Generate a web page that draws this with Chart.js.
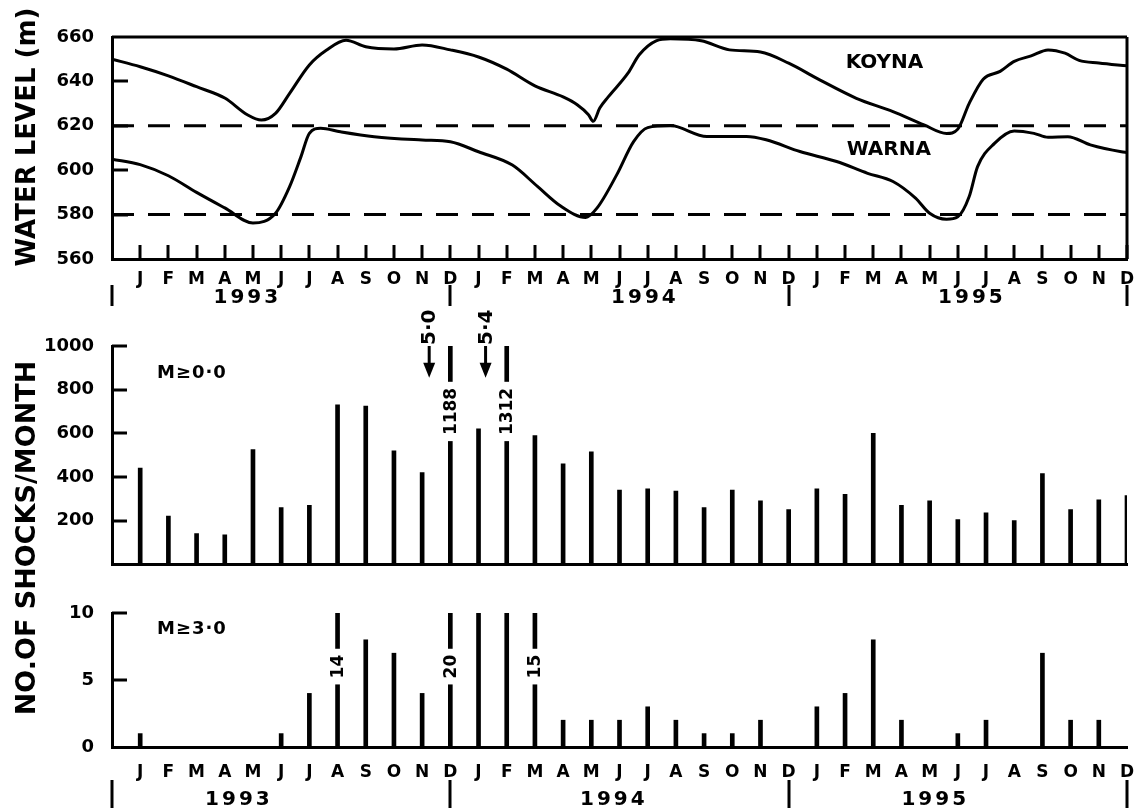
<!DOCTYPE html>
<html>
<head>
<meta charset="utf-8">
<title>Koyna / Warna water level and seismicity 1993-1995</title>
<script src="https://cdn.jsdelivr.net/npm/chart.js@4.4.1/dist/chart.umd.min.js"></script>
<style>
  html, body { margin: 0; padding: 0; background: #fff; }
  #wrap { position: relative; width: 1137px; height: 809px; overflow: hidden; background: #fff; }
  #wrap canvas { position: absolute; left: 0; }
  .ytitle {
    position: absolute; white-space: nowrap; color: #000;
    font-family: "DejaVu Sans", "Liberation Sans", sans-serif; font-weight: bold;
    transform: translate(-50%, -50%) rotate(-90deg);
  }
</style>
</head>
<body>
<div id="wrap">
  <canvas id="levels" width="1137" height="310" style="top:0"></canvas>
  <canvas id="shocksAll" width="1137" height="275" style="top:310px"></canvas>
  <canvas id="shocksM3" width="1137" height="224" style="top:585px"></canvas>
  <div class="ytitle" style="left:26px; top:137px; font-size:26px;">WATER LEVEL (m)</div>
  <div class="ytitle" style="left:25px; top:538px; font-size:27px;">NO.OF SHOCKS/MONTH</div>
</div>
<script>
(function () {
    'use strict';

    // month ticks, Jan 1993 .. Dec 1995 (tick k = 1..36)
    var months = ['J', 'F', 'M', 'A', 'M', 'J', 'J', 'A', 'S', 'O', 'N', 'D',
                  'J', 'F', 'M', 'A', 'M', 'J', 'J', 'A', 'S', 'O', 'N', 'D',
                  'J', 'F', 'M', 'A', 'M', 'J', 'J', 'A', 'S', 'O', 'N', 'D'];
    var years = ['1993', '1994', '1995'];
    var yearBounds = [0, 12, 24, 36];
    var yearLabelTop = [4.8, 18.9, 30.5];
    var yearLabelBottom = [4.5, 17.8, 29.2];

    // reservoir levels (m)
    var koynaMonth = [0, 1, 2, 3, 4, 4.8, 5.3, 5.8, 6.3, 7, 7.6, 8.3, 9, 10, 11, 12, 13, 14, 15, 16, 16.5,
                      16.9, 17.07, 17.3, 17.6, 18.3, 18.7, 19.3, 19.8, 20.9, 21.9, 23, 24, 25.1, 26.4, 27.7,
                      28.8, 29.6, 30, 30.4, 30.9, 31.5, 32, 32.6, 33.2, 33.8, 34.3, 35, 36];
    var koynaLevel = [650, 646.6, 642.5, 637.6, 632.5, 625, 622.6, 625.6, 634.6, 647.4, 654, 658.5, 655.6,
                      654.6, 656.4, 654.2, 651, 645.5, 638, 633, 629.5, 625, 622, 628, 633, 643.7, 652, 658.3,
                      659.2, 658.3, 654.2, 653.2, 648.2, 640.7, 632.4, 626.4, 620.4, 616.5, 618.5, 630, 641,
                      644.5, 649, 651.5, 654.2, 652.7, 649.5, 648.3, 647];
    var warnaMonth = [0, 1, 2, 3, 4, 5, 5.8, 6.3, 6.7, 7, 7.4, 8.1, 9.3, 11, 12, 13, 14.2, 15.1, 15.9, 16.8,
                      17.2, 17.9, 18.5, 19, 19.8, 21.1, 22.5, 23.2, 24.4, 25.7, 26.8, 27.7, 28.5, 29, 29.6,
                      30, 30.4, 30.7, 31.3, 32, 32.7, 33.2, 33.9, 34.7, 35.8, 36];
    var warnaLevel = [605, 602.5, 597.5, 590, 583, 576.2, 580.6, 592.6, 606, 616.6, 618.9, 617.3, 615.1,
                      613.6, 612.8, 608.3, 602.3, 592.6, 584, 578.7, 582.9, 597.9, 612.9, 619.2, 620.1,
                      615.2, 615.2, 613.7, 608.4, 603.9, 598.6, 594.9, 587.4, 580.6, 577.9, 579, 588, 601.6,
                      612.1, 617.7, 616.6, 614.8, 615.1, 611.4, 608.3, 608];
    var dashedLevels = [620, 580];

    // shocks per month
    var shocksAll = [440, 220, 140, 135, 525, 260, 270, 730, 725, 520, 420, 1188,
                     620, 1312, 590, 460, 515, 340, 345, 335, 260, 340, 290, 250,
                     345, 320, 600, 270, 290, 205, 235, 200, 415, 250, 295, 315];
    var shocksM3 = [1, 0, 0, 0, 0, 1, 4, 14, 8, 7, 4, 20,
                    10, 10, 15, 2, 2, 2, 3, 2, 1, 1, 2, 0,
                    3, 4, 8, 2, 0, 1, 2, 0, 7, 2, 2, 0];

    // off-scale bars get their count written on the bar
    var bigAllMonth = [12, 14];
    var bigAllText = ['1188', '1312'];
    var bigM3Month = [8, 12, 15];
    var bigM3Text = ['14', '20', '15'];

    // main earthquakes (arrows)
    var quakeMonth = [11.25, 13.25];
    var quakeText = ['5\u00b70', '5\u00b74'];

    var BLACK = '#000';
    var FONT = '"DejaVu Sans", "Liberation Sans", sans-serif';
    Chart.defaults.font.family = FONT;
    Chart.defaults.color = BLACK;

    function line(ctx, x1, y1, x2, y2) {
        ctx.beginPath(); ctx.moveTo(x1, y1); ctx.lineTo(x2, y2); ctx.stroke();
    }

    function innerYTicks(chart, values, len) {
        var ctx = chart.ctx, a = chart.chartArea, y = chart.scales.y;
        ctx.save(); ctx.strokeStyle = BLACK; ctx.lineWidth = 3;
        values.forEach(function (v) {
            var py = Math.round(y.getPixelForValue(v));
            line(ctx, a.left, py, a.left + len, py);
        });
        ctx.restore();
    }

    function yearRow(chart, labelPos, markTop, markBottom, textY) {
        var ctx = chart.ctx, x = chart.scales.x, b = chart.chartArea.bottom;
        ctx.save(); ctx.strokeStyle = BLACK; ctx.lineWidth = 3;
        yearBounds.forEach(function (k) {
            var px = Math.round(x.getPixelForValue(k));
            line(ctx, px, b + markTop, px, b + markBottom);
        });
        ctx.fillStyle = BLACK;
        ctx.font = 'bold 20px ' + FONT;
        ctx.letterSpacing = '3px';
        ctx.textAlign = 'center'; ctx.textBaseline = 'middle';
        years.forEach(function (yr, i) { ctx.fillText(yr, x.getPixelForValue(labelPos[i]), b + textY); });
        ctx.restore();
    }

    function barLabels(chart, monthList, textList, centerValue, size) {
        var ctx = chart.ctx, x = chart.scales.x, y = chart.scales.y;
        ctx.save();
        ctx.font = 'bold ' + size + 'px ' + FONT;
        monthList.forEach(function (m, i) {
            var w = ctx.measureText(textList[i]).width;
            ctx.save();
            ctx.translate(x.getPixelForValue(m), y.getPixelForValue(centerValue));
            ctx.rotate(-Math.PI / 2);
            ctx.fillStyle = '#fff';
            ctx.fillRect(-w / 2 - 6, -8, w + 12, 16);
            ctx.fillStyle = BLACK;
            ctx.textAlign = 'center'; ctx.textBaseline = 'middle';
            ctx.fillText(textList[i], 0, 1);
            ctx.restore();
        });
        ctx.restore();
    }

    function cornerLabel(chart, text, dx, dy) {
        var ctx = chart.ctx, a = chart.chartArea;
        ctx.save();
        ctx.fillStyle = BLACK; ctx.font = 'bold 18px ' + FONT;
        ctx.letterSpacing = '1px';
        ctx.textAlign = 'left'; ctx.textBaseline = 'middle';
        ctx.fillText(text, a.left + dx, a.top + dy);
        ctx.restore();
    }

    function monthAxis(show, pad, height) {
        return {
            type: 'linear', min: 0, max: 36, offset: false,
            afterBuildTicks: function (s) { s.ticks = months.map(function (m, i) { return { value: i + 1 }; }); },
            afterFit: function (s) { s.height = height; s.paddingLeft = 0; s.paddingRight = 0; },
            ticks: {
                display: show, autoSkip: false, maxRotation: 0, padding: pad,
                font: { size: 17, weight: 'bold' }, color: BLACK,
                callback: function (v) { return months[v - 1]; }
            },
            grid: { display: false },
            border: { display: true, color: BLACK, width: 3 }
        };
    }

    function valueAxis(min, max, step, hideZero) {
        return {
            min: min, max: max,
            afterFit: function (s) { s.width = 112; },
            ticks: {
                stepSize: step, padding: 10, font: { size: 18, weight: 'bold' }, color: BLACK,
                callback: function (v) { return (hideZero && v === 0) ? '' : v; }
            },
            grid: { display: false },
            border: { display: true, color: BLACK, width: 3 }
        };
    }

    var common = {
        responsive: false, animation: false, events: [],
        plugins: { legend: { display: false }, tooltip: { enabled: false } }
    };

    // ---- water levels ----
    var levelSets = [
        { data: koynaMonth.map(function (m, i) { return { x: m, y: koynaLevel[i] }; }) },
        { data: warnaMonth.map(function (m, i) { return { x: m, y: warnaLevel[i] }; }) }
    ].map(function (d) {
        return Object.assign(d, { borderColor: BLACK, borderWidth: 3, pointRadius: 0, fill: false, cubicInterpolationMode: 'monotone' });
    });
    dashedLevels.forEach(function (v) {
        levelSets.push({ data: [{ x: 0, y: v }, { x: 36, y: v }], borderColor: BLACK, borderWidth: 3,
            borderDash: [22, 14], pointRadius: 0, fill: false });
    });

    new Chart(document.getElementById('levels'), {
        type: 'line',
        data: { datasets: levelSets },
        options: Object.assign({}, common, {
            layout: { padding: { top: 37, right: 10, left: 0, bottom: 0 } },
            scales: { x: monthAxis(true, 2, 51), y: valueAxis(560, 660, 20, false) }
        }),
        plugins: [{
            id: 'levelFrame',
            afterDraw: function (chart) {
                var ctx = chart.ctx, a = chart.chartArea, x = chart.scales.x, y = chart.scales.y;
                ctx.save(); ctx.strokeStyle = BLACK; ctx.lineWidth = 3;
                line(ctx, a.left, a.top, a.right, a.top);
                line(ctx, a.right, a.top, a.right, a.bottom);
                months.forEach(function (m, i) {
                    var px = Math.round(x.getPixelForValue(i + 1));
                    line(ctx, px, a.bottom, px, a.bottom - 14);
                });
                ctx.fillStyle = BLACK; ctx.font = 'bold 20px ' + FONT;
                ctx.textAlign = 'center'; ctx.textBaseline = 'middle';
                ctx.fillText('KOYNA', x.getPixelForValue(27.4), y.getPixelForValue(648.3));
                ctx.fillText('WARNA', x.getPixelForValue(27.55), y.getPixelForValue(609));
                ctx.restore();
                innerYTicks(chart, [640, 620, 600, 580], 16);
                yearRow(chart, yearLabelTop, 26, 47, 39);
            }
        }]
    });

    // ---- all shocks ----
    new Chart(document.getElementById('shocksAll'), {
        type: 'bar',
        data: { datasets: [{ data: shocksAll.map(function (v, i) { return { x: i + 1, y: v }; }),
            backgroundColor: BLACK, borderWidth: 0, barThickness: 4 }] },
        options: Object.assign({}, common, {
            layout: { padding: { top: 36, right: 10, left: 0, bottom: 0 } },
            scales: { x: monthAxis(false, 0, 16), y: valueAxis(0, 1000, 200, true) }
        }),
        plugins: [{
            id: 'allDecor',
            afterDraw: function (chart) {
                var ctx = chart.ctx, x = chart.scales.x, y = chart.scales.y;
                innerYTicks(chart, [200, 400, 600, 800, 1000], 15);
                barLabels(chart, bigAllMonth, bigAllText, 700, 17);
                cornerLabel(chart, 'M\u22650\u00b70', 45, 27);
                ctx.save();
                ctx.strokeStyle = BLACK; ctx.fillStyle = BLACK; ctx.lineWidth = 3;
                ctx.font = 'bold 20px ' + FONT;
                quakeMonth.forEach(function (m, i) {
                    var px = x.getPixelForValue(m);
                    var tail = y.getPixelForValue(1000);
                    var tip = y.getPixelForValue(855);
                    line(ctx, px, tail, px, tip - 12);
                    ctx.beginPath();
                    ctx.moveTo(px - 6, tip - 15); ctx.lineTo(px + 6, tip - 15); ctx.lineTo(px, tip);
                    ctx.closePath(); ctx.fill();
                    ctx.save();
                    ctx.translate(px, tail - 1);
                    ctx.rotate(-Math.PI / 2);
                    ctx.textAlign = 'left'; ctx.textBaseline = 'middle';
                    ctx.fillText(quakeText[i], 0, 1);
                    ctx.restore();
                });
                ctx.restore();
            }
        }]
    });

    // ---- shocks M >= 3.0 ----
    new Chart(document.getElementById('shocksM3'), {
        type: 'bar',
        data: { datasets: [{ data: shocksM3.map(function (v, i) { return { x: i + 1, y: v }; }),
            backgroundColor: BLACK, borderWidth: 0, barThickness: 4 }] },
        options: Object.assign({}, common, {
            layout: { padding: { top: 28, right: 10, left: 0, bottom: 0 } },
            scales: { x: monthAxis(true, 7, 62), y: valueAxis(0, 10, 5, false) }
        }),
        plugins: [{
            id: 'm3Decor',
            afterDraw: function (chart) {
                innerYTicks(chart, [5, 10], 15);
                barLabels(chart, bigM3Month, bigM3Text, 6, 17);
                cornerLabel(chart, 'M\u22653\u00b70', 45, 16);
                yearRow(chart, yearLabelBottom, 33, 61, 53);
            }
        }]
    });
})();
</script>
</body>
</html>
